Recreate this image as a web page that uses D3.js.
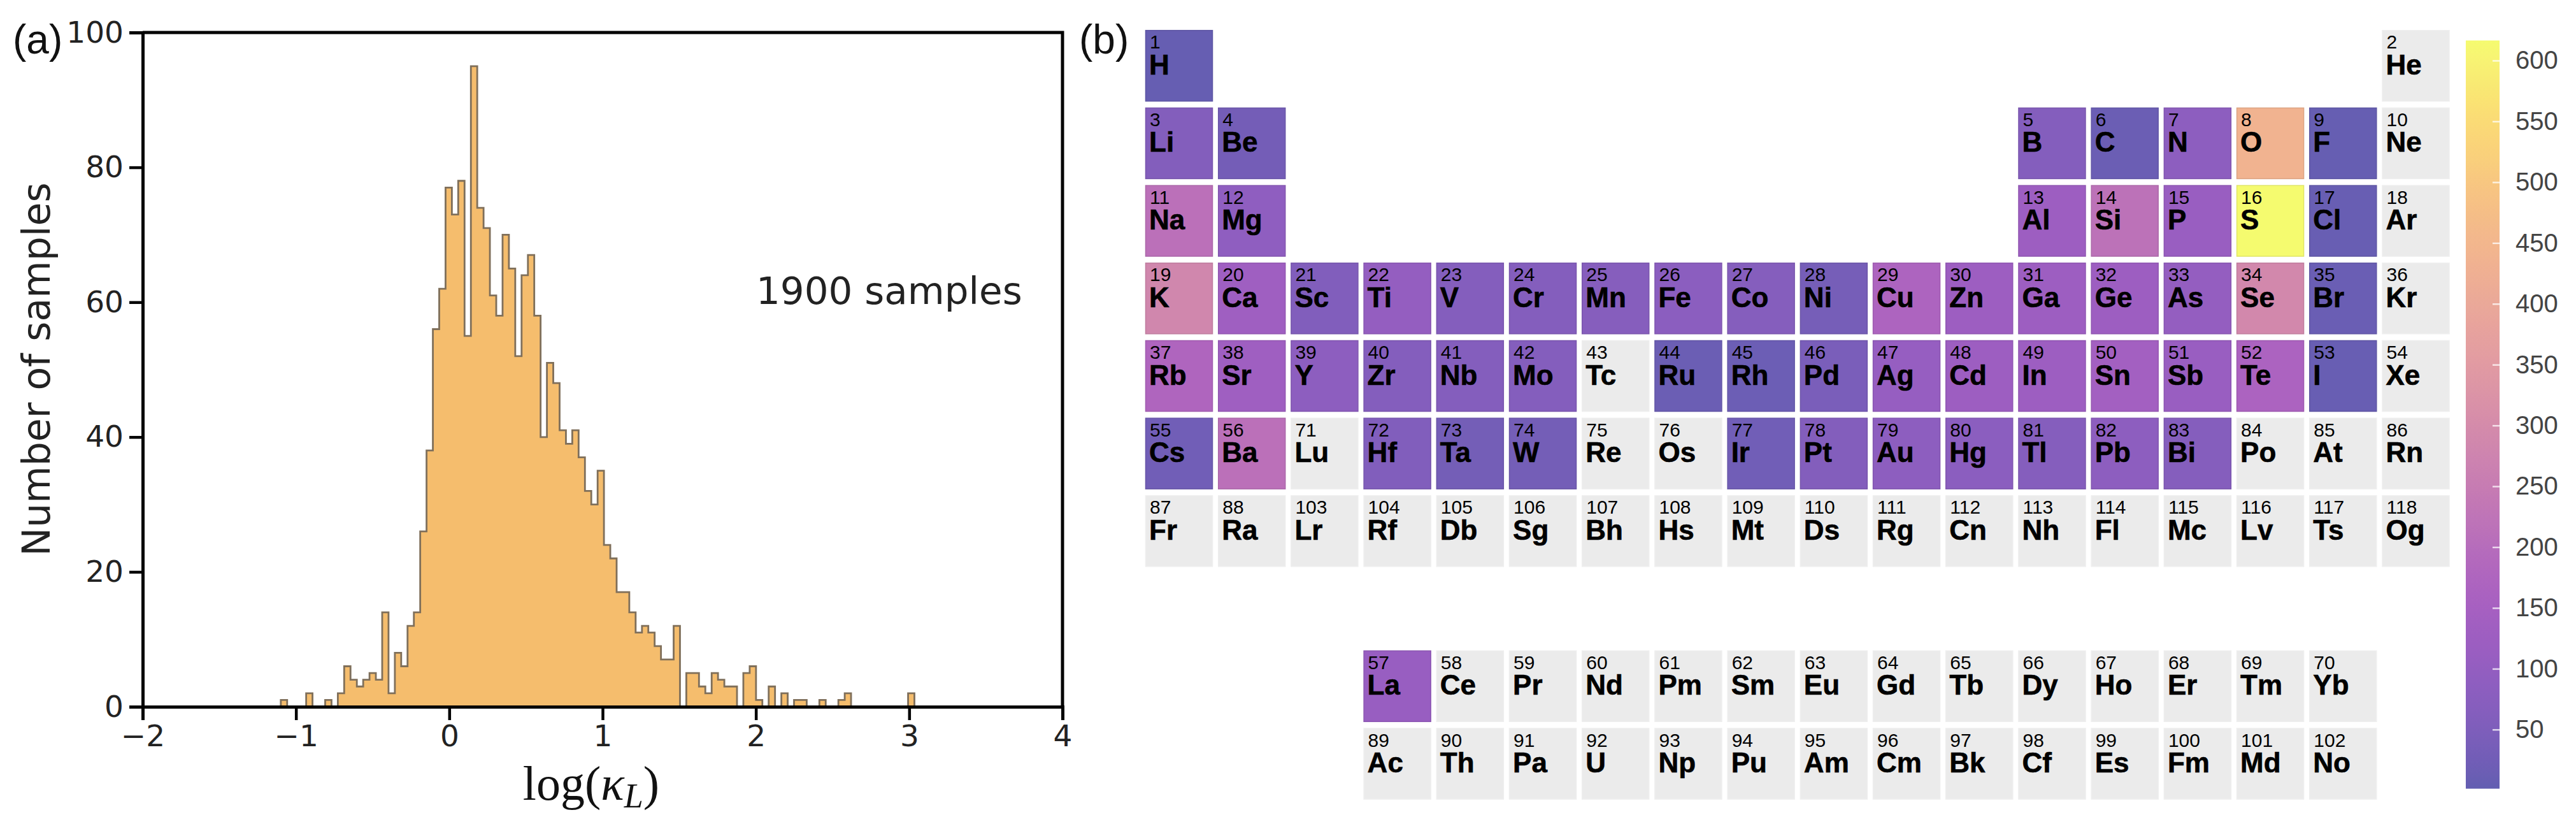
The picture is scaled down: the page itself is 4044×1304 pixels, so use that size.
<!DOCTYPE html>
<html><head><meta charset="utf-8">
<script src="https://cdn.jsdelivr.net/npm/d3@7"></script>
<style>html,body{margin:0;padding:0;background:#fff}svg{display:block}</style>
</head><body><svg id="c" width="4044" height="1304"></svg>
<script>
// Histogram (100 bins between binStart and binEnd)
const binStart = -1.099, binEnd = 3.034;
const histCounts = [1,0,0,0,2,0,0,1,0,2,6,4,3,4,5,4,14,2,8,6,12,14,26,38,56,62,77,73,78,55,
  95,74,71,61,58,70,65,52,64,67,58,40,51,48,41,39,41,37,32,30,35,24,22,17,17,14,11,12,11,9,7,7,12,
  0,5,5,3,2,5,4,3,3,0,5,6,1,0,3,0,2,0,1,1,0,0,1,0,0,1,2,0,0,0,0,0,0,0,0,0,2];
const xTicks = [-2,-1,0,1,2,3,4];
const yTicks = [0,20,40,60,80,100];
const annotation = "1900 samples";
const yTitle = "Number of samples";

// Periodic table
const symbols = ["H","He","Li","Be","B","C","N","O","F","Ne","Na","Mg","Al","Si","P","S","Cl","Ar","K","Ca","Sc","Ti","V","Cr","Mn","Fe","Co","Ni","Cu","Zn","Ga","Ge","As","Se","Br","Kr","Rb","Sr","Y","Zr","Nb","Mo","Tc","Ru","Rh","Pd","Ag","Cd","In","Sn","Sb","Te","I","Xe","Cs","Ba","La","Ce","Pr","Nd","Pm","Sm","Eu","Gd","Tb","Dy","Ho","Er","Tm","Yb","Lu","Hf","Ta","W","Re","Os","Ir","Pt","Au","Hg","Tl","Pb","Bi","Po","At","Rn","Fr","Ra","Ac","Th","Pa","U","Np","Pu","Am","Cm","Bk","Cf","Es","Fm","Md","No","Lr","Rf","Db","Sg","Bh","Hs","Mt","Ds","Rg","Cn","Nh","Fl","Mc","Lv","Ts","Og"];
const elementCounts = {H:8,Li:60,Be:28,B:62,C:15,N:85,O:440,F:8,Na:215,Mg:90,Al:125,Si:220,P:115,S:616,Cl:10,
  K:285,Ca:130,Sc:55,Ti:100,V:62,Cr:62,Mn:68,Fe:80,Co:65,Ni:35,Cu:170,Zn:125,Ga:125,Ge:125,As:100,Se:290,Br:12,
  Rb:175,Sr:130,Y:85,Zr:62,Nb:62,Mo:62,Ru:15,Rh:18,Pd:40,Ag:105,Cd:125,In:125,Sn:140,Sb:115,Te:165,I:10,
  Cs:25,Ba:215,La:110,Hf:55,Ta:30,W:30,Ir:25,Pt:60,Au:85,Hg:80,Tl:65,Pb:85,Bi:65};
const colorDomain = [1.4,616.5];
const colorTicks = [50,100,150,200,250,300,350,400,450,500,550,600];

function cell(z){ // standard periodic-table position (column, row) of atomic number z
  if(z===1) return [1,1];
  if(z===2) return [18,1];
  if(z<=4) return [z-2,2];
  if(z<=10) return [z+8,2];
  if(z<=12) return [z-10,3];
  if(z<=18) return [z,3];
  if(z<=36) return [z-18,4];
  if(z<=54) return [z-36,5];
  if(z<=56) return [z-54,6];
  if(z<=70) return [z-53,9];
  if(z<=86) return [z-68,6];
  if(z<=88) return [z-86,7];
  if(z<=102) return [z-85,10];
  return [z-100,7];
}

const svg = d3.select("#c");
const SANS = "'DejaVu Sans'", HELV = "'Liberation Sans'", SERIF = "'Liberation Serif'";

// Panel (a)
const x = d3.scaleLinear().domain([-2,4]).range([224,1668]);
const y = d3.scaleLinear().domain([0,100]).range([1109,51]);
const binW = (binEnd-binStart)/histCounts.length;
const steps = histCounts.map((c,i)=>({e:binStart+i*binW,c}));
steps.push({e:binEnd,c:histCounts[histCounts.length-1]});
const area = d3.area().x(d=>x(d.e)).y0(y(0)).y1(d=>y(d.c)).curve(d3.curveStepAfter);
svg.append("path").datum(steps).attr("d",area).attr("fill","#f5bd6d")
  .attr("stroke","#7f6f5a").attr("stroke-width",2.8).attr("stroke-linejoin","miter");

const gx = svg.append("g").attr("transform",`translate(0,${y(0)})`)
  .call(d3.axisBottom(x).tickValues(xTicks).tickFormat(d=>d<0?"\u2212"+(-d):d).tickSize(21).tickPadding(8));
const gy = svg.append("g").attr("transform",`translate(${x(-2)},0)`)
  .call(d3.axisLeft(y).tickValues(yTicks).tickSize(21).tickPadding(9));
[gx,gy].forEach(g=>{
  g.selectAll("line").attr("stroke","#000").attr("stroke-width",4.5);
  g.selectAll(".domain").attr("stroke","#000").attr("stroke-width",5);
  g.selectAll("text").attr("fill","#222").style("font-family",SANS).style("font-size","47px");
});
svg.append("path").attr("d",d3.line()([[x(-2),y(100)],[x(4),y(100)],[x(4),y(0)]]))
  .attr("fill","none").attr("stroke","#000").attr("stroke-width",5);

svg.append("text").attr("transform",`translate(78,${(290+869)/2}) rotate(-90)`).attr("text-anchor","middle")
  .style("font-family",SANS).style("font-size","60px").attr("fill","#222").text(yTitle);
svg.append("text").attr("x",1187).attr("y",477)
  .style("font-family",SANS).style("font-size","59.5px").attr("fill","#222").text(annotation);
const xl = svg.append("text").attr("x",928).attr("y",1255).attr("text-anchor","middle")
  .style("font-family",SERIF).style("font-size","76px").attr("fill","#111");
xl.append("tspan").text("log(");
xl.append("tspan").attr("font-style","italic").text("\u03BA");
xl.append("tspan").attr("font-style","italic").attr("dy",12).style("font-size","54px").text("L");
xl.append("tspan").attr("dy",-12).text(")");
svg.append("text").attr("x",20).attr("y",84).style("font-family",HELV).style("font-size","64px").attr("fill","#111").text("(a)");
svg.append("text").attr("x",1694).attr("y",84).style("font-family",HELV).style("font-size","64px").attr("fill","#111").text("(b)");

// Panel (b)
const cx = d3.scaleLinear().domain([1,18]).range([1798.5,3740]);
const cy = d3.scaleLinear().domain([1,10]).range([47.7,1143]);
const cw = 105, ch = 111;
// Plasma at 65% opacity over white; the mid-range is a little muted in the reference
function muted(t){
  const r = d3.rgb(d3.interpolatePlasma(t)), a = 0.65;
  const h = d3.hsl(d3.rgb(r.r*a+255*(1-a), r.g*a+255*(1-a), r.b*a+255*(1-a)));
  h.s *= 1 - 0.16*Math.sin(Math.PI*t);
  return d3.rgb(h);
}
const unit = d3.scaleLinear().domain(colorDomain).range([0,1]);
const elems = symbols.map((s,i)=>{const [c,r]=cell(i+1);return {s,z:i+1,c,r,v:elementCounts[s]};});
const g = svg.selectAll("g.el").data(elems).join("g").attr("class","el")
  .attr("transform",d=>`translate(${cx(d.c)},${cy(d.r)})`);
g.append("rect").attr("width",cw).attr("height",ch)
  .attr("fill",d=>d.v==null?"#ebebeb":muted(unit(d.v)).formatHex())
  .attr("stroke",d=>d.v==null?"#eeeeee":muted(unit(d.v)).darker(0.25).formatHex()).attr("stroke-width",1.5);
g.append("text").attr("x",6.5).attr("y",28.5).style("font-family",HELV).style("font-size","30px").attr("fill","#000").text(d=>d.z);
g.append("text").attr("x",5.5).attr("y",69).style("font-family",HELV).style("font-size","44px").style("font-weight","700")
  .attr("fill","#000").attr("stroke","#000").attr("stroke-width",0.6).text(d=>d.s);

// Colour bar
const cb = d3.scaleLinear().domain(colorDomain).range([1237.6,63.5]);
const grad = svg.append("defs").append("linearGradient").attr("id","cbg").attr("x1",0).attr("x2",0).attr("y1",1).attr("y2",0);
d3.range(0,1.0001,0.02).forEach(t=>grad.append("stop").attr("offset",t).attr("stop-color",muted(t).formatHex()));
svg.append("rect").attr("x",3871).attr("y",cb.range()[1]).attr("width",53).attr("height",cb.range()[0]-cb.range()[1])
  .attr("fill","url(#cbg)");
const gc = svg.append("g").attr("transform","translate(3924,0)")
  .call(d3.axisRight(cb).tickValues(colorTicks).tickSize(0).tickPadding(25));
gc.select(".domain").remove();
gc.selectAll("line").attr("x1",-11).attr("x2",0).attr("stroke","#fff").attr("stroke-opacity",0.75).attr("stroke-width",2.5);
gc.selectAll("text").style("font-family",HELV).style("font-size","40px").attr("fill","#444");
</script></body></html>
